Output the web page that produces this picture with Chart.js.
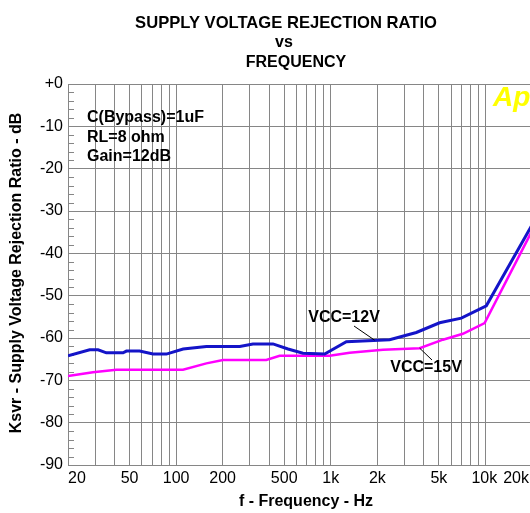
<!DOCTYPE html>
<html>
<head>
<meta charset="utf-8">
<script src="https://cdn.jsdelivr.net/npm/chart.js@4"></script>
<style>
  html, body { margin: 0; padding: 0; background: #fff; overflow: hidden; }
  #wrap { width: 530px; height: 513px; overflow: hidden; }
</style>
</head>
<body>
<div id="wrap"><canvas id="myChart" width="532" height="513"></canvas></div>
<script>
// values
const freq12 = [20, 27.6, 31.3, 35.4, 45.4, 47.7, 58.1, 70.9, 86.5, 111, 157, 258, 314, 423, 529, 661, 913, 1261, 2402, 3574, 5054, 6982, 10130, 20000];
const db12 = [-64.2, -62.8, -62.8, -63.5, -63.5, -63.1, -63.1, -63.8, -63.8, -62.6, -62.0, -62.0, -61.4, -61.4, -62.6, -63.6, -63.8, -60.9, -60.4, -58.7, -56.4, -55.3, -52.4, -33.3];

const freq15 = [20, 29, 41.1, 110.8, 156.9, 200.9, 383, 467, 984, 1324, 2175, 3755, 5312, 7150, 9878, 20000];
const db15 = [-69.0, -68.1, -67.5, -67.5, -66.0, -65.2, -65.2, -64.2, -64.2, -63.5, -62.8, -62.4, -60.4, -59.0, -56.5, -34.7];

// tick labels / grid
const xLabelFreqs = [20, 50, 100, 200, 500, 1000, 2000, 5000, 10000, 20000];
const xLabelText = ['20', '50', '100', '200', '500', '1k', '2k', '5k', '10k', '20k'];
const gridFreqs = [20, 30, 40, 50, 60, 70, 80, 90, 100, 200, 300, 400, 500, 600, 700, 800, 900,
                   1000, 2000, 3000, 4000, 5000, 6000, 7000, 8000, 9000, 10000];

const titleLines = ['SUPPLY VOLTAGE REJECTION RATIO', 'vs', 'FREQUENCY'];
const notes = ['C(Bypass)=1uF', 'RL=8 ohm', 'Gain=12dB'];

const gridColor = '#868686';
const FONT = "'Liberation Sans', Arial, sans-serif";

// extra drawing: titles, minor ticks, labels, logo
const decor = {
    id: 'decor',
    beforeDatasetsDraw(chart) {
        const { ctx, chartArea: a, scales: { y } } = chart;
        ctx.save();
        // minor ticks inside the plot
        ctx.strokeStyle = gridColor;
        ctx.lineWidth = 1;
        y.ticks.forEach(t => {
            if (t.value % 10 !== 0) {
                const py = Math.round(y.getPixelForValue(t.value)) + 0.5;
                ctx.beginPath();
                ctx.moveTo(a.left, py);
                ctx.lineTo(a.left + 6, py);
                ctx.stroke();
            }
        });
        // logo
        ctx.fillStyle = '#ffff00';
        ctx.font = "italic bold 28px " + FONT;
        ctx.textAlign = 'left';
        ctx.textBaseline = 'alphabetic';
        ctx.fillText('Ap', 493, 106);
        ctx.restore();
    },
    afterDraw(chart) {
        const { ctx, chartArea: a, scales: { x, y } } = chart;
        ctx.save();
        ctx.fillStyle = '#000';
        ctx.textBaseline = 'middle';

        // title
        ctx.textAlign = 'center';
        ctx.font = 'bold 16.6px ' + FONT;
        ctx.fillText(titleLines[0], 286, 23);
        ctx.font = 'bold 16px ' + FONT;
        ctx.fillText(titleLines[1], 284, 43);
        ctx.fillText(titleLines[2], 296, 63);

        // x tick labels, kept inside the plot width
        ctx.font = '16px ' + FONT;
        const pos = xLabelFreqs.map((f, i) => {
            const w = ctx.measureText(xLabelText[i]).width;
            return { c: x.getPixelForValue(f), w: w };
        });
        let limit = 529;
        for (let i = pos.length - 1; i >= 0; i--) {
            if (pos[i].c + pos[i].w / 2 > limit) pos[i].c = limit - pos[i].w / 2;
            limit = pos[i].c - pos[i].w / 2 - 6;
        }
        if (pos[0].c - pos[0].w / 2 < a.left) pos[0].c = a.left + pos[0].w / 2;
        pos.forEach((p, i) => ctx.fillText(xLabelText[i], p.c, a.bottom + 14));

        // axis titles
        ctx.font = 'bold 16px ' + FONT;
        ctx.fillText('f - Frequency - Hz', 306, 502);
        ctx.save();
        ctx.translate(17, 273);
        ctx.rotate(-Math.PI / 2);
        ctx.fillText('Ksvr - Supply Voltage Rejection Ratio - dB', 0, 0);
        ctx.restore();

        // notes
        ctx.textAlign = 'left';
        notes.forEach((n, i) => ctx.fillText(n, 87, 118 + i * 19.5));

        // curve labels with leader lines
        ctx.textAlign = 'center';
        ctx.fillText('VCC=12V', 344, 318);
        ctx.fillText('VCC=15V', 426, 368);
        ctx.strokeStyle = '#000';
        ctx.lineWidth = 1;
        ctx.beginPath();
        ctx.moveTo(354, 326);
        ctx.lineTo(x.getPixelForValue(1918), y.getPixelForValue(-60.5));
        ctx.moveTo(x.getPixelForValue(3755), y.getPixelForValue(-62.4));
        ctx.lineTo(432, 360);
        ctx.stroke();
        ctx.restore();
    }
};

const config = {
    type: 'line',
    data: {
        datasets: [{
            label: 'VCC=12V',
            data: freq12.map((f, i) => ({ x: f, y: db12[i] })),
            borderColor: '#1414c8',
            borderWidth: 3,
            pointRadius: 0,
            tension: 0
        }, {
            label: 'VCC=15V',
            data: freq15.map((f, i) => ({ x: f, y: db15[i] })),
            borderColor: '#ff00ff',
            borderWidth: 2.5,
            pointRadius: 0,
            tension: 0
        }]
    },
    options: {
        responsive: false,
        animation: false,
        layout: { padding: { top: 84, left: 0, right: 0, bottom: 0 } },
        plugins: {
            legend: { display: false },
            tooltip: { enabled: false }
        },
        scales: {
            x: {
                type: 'logarithmic',
                min: 20,
                max: 20000,
                afterBuildTicks: s => { s.ticks = gridFreqs.map(v => ({ value: v })); },
                afterFit: s => { s.height = 48; s.paddingLeft = 0; s.paddingRight = 0; },
                ticks: { display: false },
                grid: { color: gridColor, drawTicks: false },
                border: { color: gridColor }
            },
            y: {
                min: -90,
                max: 0,
                afterBuildTicks: s => {
                    const t = [];
                    for (let v = -90; v <= 0; v += 2) t.push({ value: v });
                    s.ticks = t;
                },
                afterFit: s => { s.width = 68; s.paddingTop = 0; s.paddingBottom = 0; },
                ticks: {
                    autoSkip: false,
                    padding: 5,
                    color: '#000',
                    font: { family: FONT, size: 16 },
                    callback: v => v % 10 === 0 ? (v === 0 ? '+0' : String(v)) : ''
                },
                grid: {
                    color: c => (c.tick && c.tick.value % 10 === 0) ? gridColor : 'rgba(0,0,0,0)',
                    drawTicks: false
                },
                border: { color: gridColor }
            }
        }
    },
    plugins: [decor]
};

const myChart = new Chart(document.getElementById('myChart'), config);
</script>
</body>
</html>
